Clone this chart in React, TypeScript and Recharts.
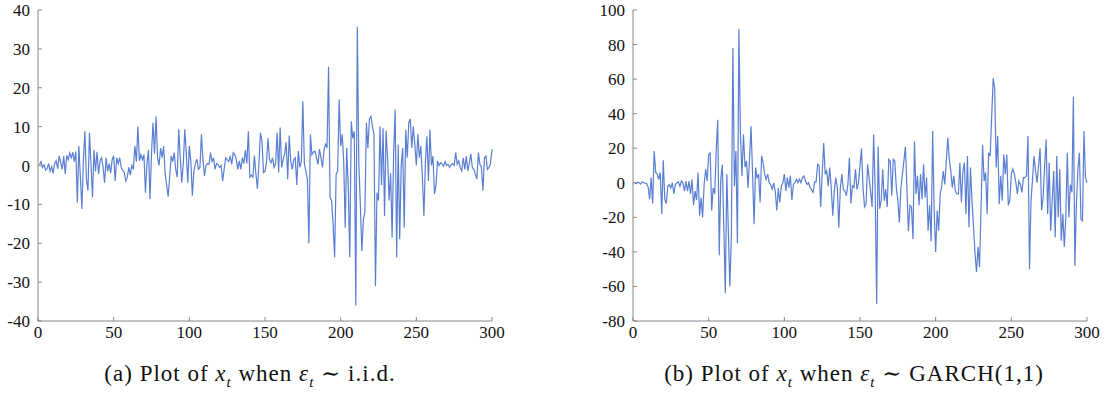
import React from 'react'
import { LineChart, Line, XAxis, YAxis } from 'recharts'

// x axis is the time index t = 1..300
const xTicks = [0, 50, 100, 150, 200, 250, 300]
const iidTicks = [-40, -30, -20, -10, 0, 10, 20, 30, 40]
const garchTicks = [-80, -60, -40, -20, 0, 20, 40, 60, 80, 100]

// (a) x_t with i.i.d. errors
const iidValues = [
  0.3, 1.0, -0.5, 0.2, -1.2, -0.8, 0.5, -1.5, -0.3, -2.0,
  0.5, 1.2, -0.8, 2.5, 0.8, -1.0, 2.4, -2.2, 2.6, 1.5,
  3.2, 2.0, 3.4, 1.0, 3.6, -9.5, 5.0, -3.0, -11.2, 1.5,
  8.8, -3.5, -6.5, 8.4, 0.5, -8.2, 4.0, -1.5, 3.5, -2.2,
  1.2, 2.0, -0.5, -4.4, 2.0, -1.5, 0.5, -2.0, 1.5, 2.5,
  -4.0, 2.0, 0.5, 2.0, -0.5, -1.2, -1.8, -4.0, -3.0, -0.5,
  -2.5, 0.0, -1.0, 5.0, 1.0, 10.0, 1.2, 2.8, 1.5, 2.8,
  -7.0, 0.5, 4.0, -8.7, 3.0, 11.0, 3.0, 12.6, 2.0, 0.0,
  4.5, 2.0, 5.0, -2.0, -5.0, -8.0, -3.0, 2.5, 1.0, 3.3,
  -1.0, -3.0, 9.3, 2.0, -4.4, 0.5, 9.3, 3.0, -4.4, 5.0,
  1.0, -7.8, -1.4, 0.5, 1.6, -1.0, -0.5, 8.0, 1.5, -2.7,
  0.0, 0.5, 0.3, 3.3, 1.0, 2.0, -1.0, 0.5, 0.3, -0.5,
  0.0, -4.0, -1.0, 2.0, 1.5, 1.0, 2.5, 0.3, 3.3, 2.8,
  1.5, -1.0, 1.2, -1.0, 2.0, 0.5, 4.0, 0.5, 8.8, -3.0,
  -2.5, -3.0, 2.5, -2.2, -6.0, 0.5, 8.4, 6.3, -1.8, -1.5,
  1.0, 7.0, 1.5, 0.7, 2.0, -0.5, 0.5, 8.4, -1.8, 9.8,
  -0.5, 1.5, 3.0, 6.0, -3.5, 7.7, 1.2, -1.0, 1.5, 2.0,
  -5.0, 3.7, -0.5, 1.0, 16.5, 0.5, -1.5, -3.5, -20.0, 8.0,
  2.8, 3.5, 3.7, 2.0, 0.3, 4.2, 2.0, -0.5, 4.0, 5.5,
  4.5, 25.4, -8.3, -9.0, -15.0, -23.6, -2.3, -1.5, 17.0, 5.0,
  8.0, 1.2, -16.0, 4.5, -5.5, -23.6, 11.4, 7.0, 8.8, -36.0,
  35.7, 0.5, -10.0, -22.0, -14.0, -12.0, 11.0, 4.5, 12.0, 12.6,
  10.0, 8.0, -31.0, -7.0, -9.0, 10.0, -5.0, 9.6, -13.0, 9.0,
  2.0, -9.0, -2.0, -18.5, 3.0, 14.4, -23.6, 5.4, -19.0, 0.0,
  4.5, -16.0, 9.2, 2.0, 11.0, 12.0, 4.5, 10.0, 5.5, 0.0,
  8.0, 2.0, 5.0, -3.0, -13.0, 1.0, 7.5, -4.0, 9.2, 0.0,
  2.4, -7.4, -5.0, 1.2, 0.0, 0.7, 0.3, -0.2, 1.0, 0.0,
  0.3, -0.5, 0.2, 0.5, 0.0, 3.3, 0.3, 1.2, -0.5, -1.4,
  2.0, -1.0, 2.4, -1.4, 0.5, 3.0, -0.5, -1.0, -2.3, -3.5,
  3.3, 0.3, -0.5, -6.5, 2.0, 2.4, -1.0, -0.5, 0.5, 4.2,
]

// (b) x_t with GARCH(1,1) errors
const garchValues = [
  0.2, -0.5, 0.3, 0.0, -0.8, 0.5, 0.2, -0.3, -0.5, -2.5,
  -9.5, 3.0, -12.0, 18.4, 6.0, 5.0, 2.0, 6.0, -18.0, 13.0,
  -9.5, -12.0, -2.0, -1.0, -3.0, 0.0, -6.5, -1.0, 0.0, 0.5,
  -2.0, 1.0, 0.0, -4.8, 1.0, -4.8, 1.0, -6.5, 2.0, -13.0,
  -4.8, -10.0, 6.0, -19.0, -8.5, -20.0, -1.0, 8.0, 1.0, 16.4,
  17.4, -16.0, -3.0, -6.5, 19.0, 36.5, -42.0, 2.0, 10.6, -25.0,
  -64.0, 5.0, -28.0, -60.0, -30.0, 78.0, -2.0, 18.4, -35.0, 89.0,
  28.0, 4.0, 28.0, 9.0, 12.6, -3.0, 14.0, 32.7, 5.0, -24.0,
  8.8, 3.0, 5.0, -11.4, 15.5, 11.6, 5.0, 2.0, 5.0, 0.0,
  -1.0, -3.7, 0.0, -4.8, -16.0, -3.0, -11.4, -2.0, 0.0, 5.0,
  -4.8, 3.0, -2.8, 4.0, -10.0, -1.0, 0.0, 2.0, 0.0, 2.0,
  0.0, 3.0, 4.0, 1.0, -1.0, 0.0, -2.8, -4.0, -5.6, 0.5,
  0.5, 10.7, 10.0, -14.0, 5.0, 23.0, 5.0, 7.0, -2.0, 8.8,
  -3.0, -19.0, -5.0, 3.0, -3.0, -26.0, -3.0, 5.0, -4.0, -4.8,
  -7.5, -1.0, 14.5, -12.0, -1.8, -2.8, 7.8, -3.8, 0.0, 10.0,
  20.0, -2.8, -14.0, -12.4, 10.7, 3.0, -5.0, -14.0, 28.0, -2.8,
  -70.0, 21.0, -15.0, -10.4, 7.8, -10.4, -3.8, -14.0, 13.6, 12.6,
  -7.5, 13.6, 12.6, -2.8, -10.0, -23.0, -3.0, 5.0, 12.6, 21.0,
  -2.8, -28.0, -13.0, -14.0, -32.5, 24.0, -6.5, 4.0, -13.0, 5.0,
  -9.5, 10.7, -8.5, 3.0, -27.7, -13.0, -34.0, 30.0, -16.0, -40.0,
  -16.0, -27.7, -6.5, -1.8, 6.8, -1.0, 12.0, 26.0, 13.6, 6.8,
  -2.8, 4.0, -4.8, -6.5, -6.5, 11.6, -11.4, 6.8, 11.6, -18.0,
  15.5, -25.7, 8.8, -10.4, -25.0, -41.0, -51.6, -37.0, -48.8, -14.0,
  22.0, 1.0, 6.0, -18.0, 17.4, 15.5, 38.0, 60.5, 54.7, 8.8,
  27.0, -12.4, 4.0, -10.4, 16.4, 5.0, 16.4, -13.0, -10.0, 5.0,
  8.0, 5.0, 0.0, -6.5, 1.0, -1.0, -5.6, 3.0, 3.0, 4.0,
  27.0, -50.0, -10.5, 2.0, 15.5, 6.8, 0.0, 10.0, 20.0, -16.0,
  -8.5, 10.0, 25.0, -18.0, 11.6, -27.7, -10.4, 6.8, -31.5, 15.5,
  -20.0, 7.8, -33.5, -18.0, -37.0, -20.0, 17.4, -20.0, -1.0, -5.6,
  50.0, -48.0, -12.4, 8.0, 17.4, -21.0, -22.0, 30.0, 3.0, 0.0,
]

const lineColor = '#5a7fd2'
const axisColor = '#888888'
const serif = '"Liberation Serif", "DejaVu Serif", serif'
const tickStyle = { fontFamily: serif, fontSize: 17, fill: '#111' }

function Panel({ values, yTicks, left }: { values: number[]; yTicks: number[]; left: number }) {
  const data = values.map((v, i) => ({ t: i + 1, v }))
  // plot area spans y = 10..321 on the page
  return (
    <div style={{ position: 'absolute', left, top: 0 }}>
      <LineChart width={520} height={345} data={data} margin={{ top: 10, right: 28, left: 8, bottom: 0 }}>
        <XAxis
          dataKey="t"
          type="number"
          domain={[0, 300]}
          ticks={xTicks}
          height={24}
          tickSize={-4}
          tickMargin={9}
          stroke={axisColor}
          tick={tickStyle}
          interval={0}
        />
        <YAxis
          type="number"
          domain={[yTicks[0], yTicks[yTicks.length - 1]]}
          ticks={yTicks}
          width={30}
          tickSize={-4}
          tickMargin={12}
          stroke={axisColor}
          tick={tickStyle}
          interval={0}
        />
        <Line
          type="linear"
          dataKey="v"
          stroke={lineColor}
          strokeWidth={1.2}
          dot={false}
          isAnimationActive={false}
        />
      </LineChart>
    </div>
  )
}

const subStyle: React.CSSProperties = { fontSize: 15, fontStyle: 'italic' }

const captionStyle: React.CSSProperties = {
  position: 'absolute',
  top: 360,
  fontFamily: serif,
  fontSize: 23,
  letterSpacing: 1,
  color: '#111',
  whiteSpace: 'nowrap',
  transform: 'translateX(-50%)',
}

export default function App() {
  return (
    <div style={{ position: 'absolute', left: 0, top: 0, width: 1109, height: 404, background: '#fff', overflow: 'hidden' }}>
      <Panel values={iidValues} yTicks={iidTicks} left={0} />
      <Panel values={garchValues} yTicks={garchTicks} left={595} />
      <div style={{ ...captionStyle, left: 250 }}>
        (a) Plot of <i>x</i><sub style={subStyle}>t</sub> when <i>ε</i><sub style={subStyle}>t</sub> ∼ i.i.d.
      </div>
      <div style={{ ...captionStyle, left: 854 }}>
        (b) Plot of <i>x</i><sub style={subStyle}>t</sub> when <i>ε</i><sub style={subStyle}>t</sub> ∼ GARCH(1,1)
      </div>
    </div>
  )
}
